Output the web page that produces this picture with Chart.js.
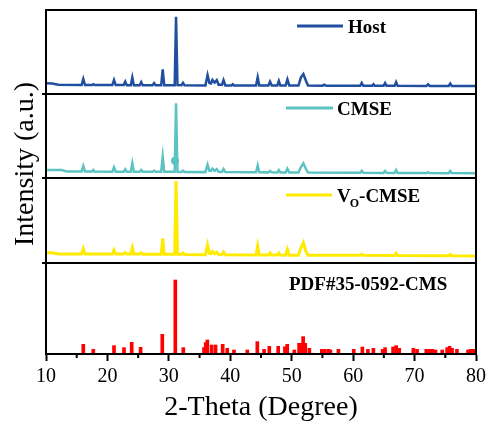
<!DOCTYPE html>
<html><head><meta charset="utf-8">
<script src="https://cdn.jsdelivr.net/npm/chart.js@4.4.1/dist/chart.umd.min.js"></script>
<style>html,body{margin:0;padding:0;background:#fff}#wrap{width:491px;height:427px}</style>
</head><body><div id="wrap"><canvas id="c" width="491" height="427"></canvas></div>
<script>
// ---- data (2-Theta in degrees, intensity in a.u., each panel normalised 0-100) ----
const xTicks = [10, 20, 30, 40, 50, 60, 70, 80];
const minorTicks = [15, 25, 35, 45, 55, 65, 75];

const hostPattern = [
 [10,12.7],[11,12.4],[12,10.9],
 [15.8,10.7],[16.07,17.9],[16.35,10.7],
 [17.5,10.7],[17.7,11.6],[17.9,10.6],
 [20.8,10.6],[21.07,16.7],[21.35,10.6],
 [22.65,10.6],[22.9,14.7],[23.15,10.5],
 [23.8,10.5],[24.05,19.8],[24.3,10.5],
 [25.25,10.5],[25.5,14.2],[25.75,10.4],
 [27.35,10.4],[27.6,13.0],[27.85,10.4],
 [28.75,10.4],[29.0,29.4],[29.25,10.4],
 [30.95,10.4],[31.17,92],[31.4,10.6],
 [32.05,10.5],[32.3,13.3],[32.55,10.3],
 [35.95,10.2],[36.3,22.6],[36.6,13],[36.85,12.5],[37.1,16.7],[37.45,13.5],[37.8,16.5],[38.1,11],[38.65,11],[38.9,16.5],[39.2,10.2],
 [40.2,10.1],[40.4,11.5],[40.6,10.1],
 [44.2,10],[44.46,19.8],[44.72,10.2],
 [46.2,10],[46.47,14.7],[46.75,10],
 [47.65,10],[47.9,15.5],[48.15,10],
 [49.0,10],[49.3,17.5],[49.6,10.2],
 [51.1,10],[51.5,19.8],[51.9,23.8],[52.3,16],[52.65,10],
 [55.0,9.9],[55.3,11],[55.6,9.8],
 [61.15,9.7],[61.4,13.1],[61.65,9.7],
 [63.1,9.7],[63.3,11.5],[63.5,9.7],
 [64.95,9.7],[65.2,13.0],[65.45,9.7],
 [66.75,9.7],[67.0,14.2],[67.25,9.7],
 [71.95,9.6],[72.2,11.6],[72.45,9.6],
 [75.55,9.6],[75.8,12.4],[76.05,9.6],
 [80,9.5]
];

const cmsePattern = [
 [10,9.5],[12.5,9.5],[13.5,7.6],
 [15.8,7.6],[16.07,14.3],[16.35,7.6],
 [17.5,7.6],[17.7,9.5],[17.9,7.6],
 [20.8,7.5],[21.07,12.7],[21.35,7.5],
 [22.65,7.5],[22.9,10.3],[23.15,7.5],
 [23.8,7.5],[24.05,17.5],[24.3,7.5],
 [25.25,7.4],[25.5,9.5],[25.75,7.4],
 [27.35,7.3],[27.6,8.8],[27.85,7.3],
 [28.75,7.3],[29.0,25.4],[29.25,7.3],
 [30.95,7.3],[31.17,88.9],[31.4,7.5],
 [32.05,7.2],[32.3,8.8],[32.55,7.2],
 [35.95,7.0],[36.3,15.9],[36.6,8.5],[36.85,8.3],[37.1,11.1],[37.45,8.5],[37.8,10.7],[38.1,7.3],[38.65,7.2],[38.9,10.7],[39.2,7.0],
 [44.2,6.8],[44.46,14.7],[44.72,6.9],
 [46.2,6.7],[46.47,8.5],[46.75,6.7],
 [47.65,6.6],[47.9,9.5],[48.15,6.6],
 [49.0,6.6],[49.3,11.1],[49.6,6.6],
 [51.1,6.5],[51.5,13],[51.9,17.5],[52.3,11],[52.65,6.5],
 [61.15,6.2],[61.4,8.5],[61.65,6.2],
 [64.95,6.1],[65.2,8.3],[65.45,6.1],
 [66.75,6.0],[67.0,9.5],[67.25,6.0],
 [71.95,5.9],[72.2,7.0],[72.45,5.9],
 [75.55,5.8],[75.8,8.2],[76.05,5.8],
 [80,5.6]
];
const cmseMarker = [[31.0,20.6]];

const voPattern = [
 [10,12.2],[11,12.1],[12,10.6],
 [15.8,10.6],[16.07,16.9],[16.35,10.6],
 [20.8,10.6],[21.07,15.3],[21.35,10.6],
 [22.65,10.6],[22.9,12.2],[23.15,10.5],
 [23.8,10.5],[24.05,18],[24.3,10.5],
 [25.25,10.5],[25.5,12],[25.75,10.4],
 [28.75,10.3],[29.0,29],[29.25,10.3],
 [30.95,10.3],[31.17,96.5],[31.4,10.4],
 [32.05,10.2],[32.3,11.8],[32.55,10.1],
 [35.95,9.8],[36.3,21.2],[36.6,11.5],[36.85,11],[37.1,13.7],[37.45,11],[37.8,12.5],[38.1,10],[38.65,9.8],[38.9,12.9],[39.2,9.6],
 [44.2,9.4],[44.46,20],[44.72,9.5],
 [46.2,9.3],[46.47,11.8],[46.75,9.3],
 [47.65,9.3],[47.9,11.8],[48.15,9.3],
 [49.0,9.2],[49.3,16.1],[49.6,9.2],
 [51.1,9.2],[51.5,18],[51.9,23.9],[52.3,14],[52.65,9.2],
 [61.15,9.0],[61.4,10.4],[61.65,9.0],
 [66.75,8.8],[67.0,11.5],[67.25,8.8],
 [75.55,8.4],[75.8,10],[76.05,8.4],
 [80,8.2]
];

const pdfLines = [
 [16.07,10.6],[17.7,5.1],[21.07,9.2],[22.7,7.0],[23.95,12.8],[25.4,7.3],[28.93,21.6],[31.05,81.3],
 [32.35,7.0],[35.72,7.0],[36.0,12.5],[36.27,15.4],[36.97,9.9],[37.6,9.9],[38.76,10.6],[39.5,6.2],
 [40.6,4.4],[42.77,4.4],[44.4,13.6],[45.5,5.1],[46.35,8.4],[47.8,8.4],[48.9,8.0],[49.27,10.6],
 [50.42,4.4],[51.2,11.7],[51.55,11.7],[51.86,19.1],[52.2,11.7],[52.87,6.2],[54.9,5.1],[55.4,5.1],
 [56.0,5.1],[56.3,4.4],[57.6,5.1],[60.1,5.1],[61.5,7.7],[62.4,5.1],[63.3,6.2],[64.8,5.1],[65.2,7.0],
 [66.5,7.7],[67.0,9.2],[67.5,6.2],[69.8,6.2],[70.4,5.1],[71.9,5.1],[72.4,5.1],[72.9,5.1],[73.4,4.4],
 [74.5,4.4],[75.3,7.0],[75.7,8.4],[76.1,6.2],[76.9,5.1],[78.7,4.4],[79.1,5.1],[79.6,5.1]
];

const seriesNames = ['Host', 'CMSE', 'VO-CMSE', 'PDF#35-0592-CMS'];
const seriesColors = ['#1F4F9E', '#5CC3C3', '#FFEA00', '#FF0000'];

// ---- chart ----
const toXY = a => a.map(([x, y]) => ({x, y}));
const SERIF = '"Liberation Serif", "Times New Roman", serif';

const panelScale = (weight, stackWeight) => ({
  type: 'linear', position: 'left', stack: 'xrd', stackWeight, weight,
  min: 0, max: 100, display: true,
  ticks: {display: false}, grid: {display: false, drawTicks: false}, border: {display: false},
  afterFit(s) { s.width = 0; }
});

const decor = {
  id: 'decor',
  afterDraw(chart) {
    const {ctx, chartArea: a, scales} = chart;
    const ids = ['yHost', 'yCMSE', 'yVO', 'yPDF'];
    ctx.save();
    ctx.strokeStyle = '#000';
    ctx.lineWidth = 2;
    ids.forEach(id => {
      const s = scales[id];
      ctx.strokeRect(a.left, s.top, a.right - a.left, s.bottom - s.top);
    });
    // small left marks at panel separators
    ctx.beginPath();
    ids.slice(1).forEach(id => {
      const y = scales[id].top;
      ctx.moveTo(a.left - 4, y); ctx.lineTo(a.left, y);
    });
    // minor x ticks
    minorTicks.forEach(v => {
      const x = scales.x.getPixelForValue(v);
      ctx.moveTo(x, a.bottom); ctx.lineTo(x, a.bottom + 4);
    });
    ctx.stroke();

    // panel legends
    const legends = [
      {id: 'yHost', dy: 16, x1: 251, x2: 297, tx: 302},
      {id: 'yCMSE', dy: 14, x1: 240, x2: 287, tx: 291},
      {id: 'yVO', dy: 17, x1: 240, x2: 286, tx: 291},
    ];
    ctx.fillStyle = '#000';
    ctx.textBaseline = 'alphabetic';
    ctx.textAlign = 'left';
    legends.forEach((L, i) => {
      const y = scales[L.id].top + L.dy;
      ctx.strokeStyle = seriesColors[i];
      ctx.lineWidth = 3;
      ctx.beginPath();
      ctx.moveTo(a.left + L.x1, y); ctx.lineTo(a.left + L.x2, y);
      ctx.stroke();
      const bx = a.left + L.tx, by = y + 6.5;
      ctx.font = 'bold 19px ' + SERIF;
      if (seriesNames[i] === 'VO-CMSE') {
        ctx.fillText('V', bx, by);
        const w1 = ctx.measureText('V').width;
        ctx.font = 'bold 12px ' + SERIF;
        ctx.fillText('O', bx + w1 - 1, by + 5.5);
        const w2 = ctx.measureText('O').width;
        ctx.font = 'bold 19px ' + SERIF;
        ctx.fillText('-CMSE', bx + w1 - 1 + w2, by);
      } else {
        ctx.fillText(seriesNames[i], bx, by);
      }
    });
    ctx.font = 'bold 19px ' + SERIF;
    ctx.fillText(seriesNames[3], a.left + 243, scales.yPDF.top + 26.5);

    // y axis title
    ctx.save();
    ctx.translate(33, 164);
    ctx.rotate(-Math.PI / 2);
    ctx.textAlign = 'center';
    ctx.font = '28px ' + SERIF;
    ctx.fillText('Intensity (a.u.)', 0, 0);
    ctx.restore();
    ctx.restore();
  }
};

new Chart(document.getElementById('c'), {
  type: 'line',
  data: {
    datasets: [
      {type: 'line', label: seriesNames[0], data: toXY(hostPattern), yAxisID: 'yHost',
       borderColor: seriesColors[0], borderWidth: 2.5, pointRadius: 0, tension: 0, fill: false},
      {type: 'line', label: seriesNames[1], data: toXY(cmsePattern), yAxisID: 'yCMSE',
       borderColor: seriesColors[1], borderWidth: 2.5, pointRadius: 0, tension: 0, fill: false},
      {type: 'line', label: 'marker', data: toXY(cmseMarker), yAxisID: 'yCMSE', showLine: false,
       pointRadius: 4, pointBackgroundColor: seriesColors[1], pointBorderWidth: 0, borderColor: seriesColors[1]},
      {type: 'line', label: seriesNames[2], data: toXY(voPattern), yAxisID: 'yVO',
       borderColor: seriesColors[2], borderWidth: 3, pointRadius: 0, tension: 0, fill: false},
      {type: 'bar', label: seriesNames[3], data: toXY(pdfLines), yAxisID: 'yPDF',
       backgroundColor: seriesColors[3], barThickness: 3, grouped: false, borderWidth: 0}
    ]
  },
  options: {
    responsive: false, animation: false, devicePixelRatio: 1,
    layout: {padding: {left: 46, right: 15, top: 10, bottom: 0}},
    plugins: {legend: {display: false}, tooltip: {enabled: false}},
    scales: {
      x: {
        type: 'linear', min: 10, max: 80, position: 'bottom', offset: false,
        afterBuildTicks(s) { s.ticks = xTicks.map(v => ({value: v})); },
        ticks: {font: {family: SERIF, size: 20}, color: '#000', padding: 4, maxRotation: 0, autoSkip: false},
        grid: {drawOnChartArea: false, drawTicks: true, tickLength: 7, tickWidth: 2, tickColor: '#000', offset: false},
        border: {display: true, color: '#000', width: 2},
        title: {display: true, text: '2-Theta (Degree)', color: '#000',
                font: {family: SERIF, size: 28, lineHeight: 1.2}, padding: {top: 0, bottom: 3}},
        afterFit(s) { s.height = 73; }
      },
      yHost: panelScale(4, 84),
      yCMSE: panelScale(3, 84),
      yVO: panelScale(2, 85),
      yPDF: panelScale(1, 91)
    }
  },
  plugins: [decor]
});
</script>
</body></html>
